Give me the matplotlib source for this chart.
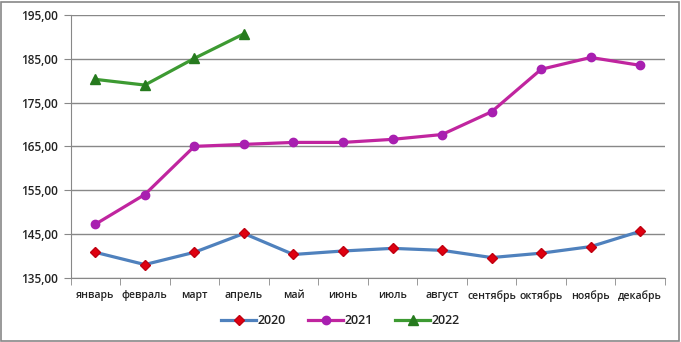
import matplotlib
matplotlib.use("Agg")
import matplotlib.pyplot as plt
from matplotlib.patches import Rectangle

months = ["январь", "февраль", "март", "апрель", "май", "июнь", "июль",
          "август", "сентябрь", "октябрь", "ноябрь", "декабрь"]
s2020 = [140.8, 138.0, 140.8, 145.1, 140.3, 141.1, 141.7, 141.25, 139.6, 140.6, 142.1, 145.6]
s2021 = [147.2, 154.0, 165.0, 165.45, 165.9, 165.9, 166.6, 167.7, 172.9, 182.6, 185.3, 183.5]
s2022 = [180.3, 179.0, 185.1, 190.7]
yticks = [135, 145, 155, 165, 175, 185, 195]

plt.rcParams['font.family'] = ['Open Sans', 'DejaVu Sans']

fig = plt.figure(figsize=(6.81, 3.42), dpi=100)
fig.patches.append(Rectangle((0.002, 0.003), 0.995, 0.992, transform=fig.transFigure,
                             fill=False, edgecolor='#888888', linewidth=1.2))
ax = fig.add_axes([70.5/681, 1-277.7/342, (665-70.5)/681, (277.7-15)/342])

x = list(range(len(months)))
ax.plot(x, s2020, color='#4f81bd', lw=2.3, marker='D', ms=5.5, mfc='#e00010', mec='#c00010', label='2020', zorder=3)
ax.plot(x, s2021, color='#c0259f', lw=2.3, marker='o', ms=6, mfc='#a81fb0', mec='#a81fb0', label='2021', zorder=3)
ax.plot(x[:len(s2022)], s2022, color='#3d9a32', lw=2.3, marker='^', ms=7.5, mfc='#267a1e', mec='#267a1e', label='2022', zorder=3)

ax.set_xlim(-0.5, 11.5)
ax.set_ylim(135, 195)
ax.set_yticks(yticks)
ax.set_yticklabels([f"{v:.2f}".replace('.', ',') for v in yticks], fontsize=8.5, fontweight='semibold', color='#222222')
ax.set_xticks(x)
ax.set_xticklabels(months, fontsize=7.6, fontweight='semibold', color='#222222')
ax.tick_params(axis='x', length=0, pad=9)
ax.set_xticks([i + 0.5 for i in range(-1, 12)], minor=True)
ax.tick_params(axis='x', which='minor', length=5, color='#888888', direction='out')
ax.tick_params(axis='y', length=5, color='#888888', direction='out', pad=4)
ax.grid(axis='y', color='#888888', lw=1)
for s in ['top', 'right']:
    ax.spines[s].set_visible(False)
for s in ['left', 'bottom']:
    ax.spines[s].set_color('#888888')
ax.set_axisbelow(True)

leg = fig.legend(loc='center', bbox_to_anchor=(0.5, 1-321/342), ncol=3, frameon=False,
                 handlelength=2.8, columnspacing=1.8, handletextpad=0.1,
                 prop={'weight': 'semibold', 'size': 9})
for t in leg.get_texts():
    t.set_color('#222222')

fig.savefig("out.png", dpi=100)
